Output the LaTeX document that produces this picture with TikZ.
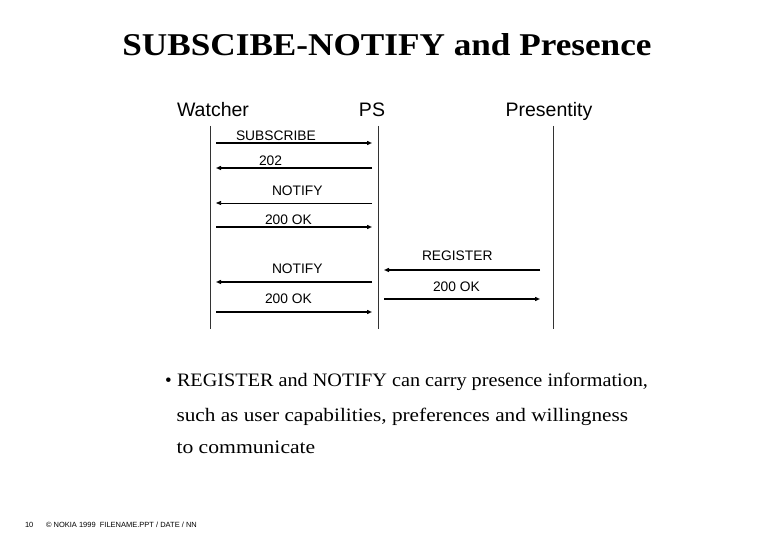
\documentclass[tikz,border=0pt]{standalone}
\usepackage{fontspec}
\setmainfont{Liberation Serif}
\newfontfamily\arialf{Liberation Sans}
\usetikzlibrary{arrows.meta}
\tikzset{
  txt/.style={inner sep=0pt, outer sep=0pt, anchor=base west},
  head/.style={inner sep=0pt, anchor=base, font=\arialf\fontsize{19.5}{20}\selectfont},
  lbl/.style={txt, font=\arialf\fontsize{13.8}{14}\selectfont},
  life/.style={line width=0.8pt, black!80},
  msg/.style={line width=1.3pt, -{Triangle[length=5pt,width=4pt]}},
  thinmsg/.style={line width=0.7pt, -{Triangle[length=5pt,width=4pt]}},
  body/.style={txt, font=\fontsize{19}{20}\selectfont},
  foottxt/.style={txt, font=\arialf\fontsize{7.5}{8}\selectfont},
}
\begin{document}
\begin{tikzpicture}[x=1pt,y=-1pt]
\useasboundingbox (0,0) rectangle (780,540);
\fill[white] (0,0) rectangle (780,540);
% title
\node[inner sep=0pt, anchor=base, font=\bfseries\fontsize{31.7}{32}\selectfont] (title) at (387,56) {\scalebox{1.11}[1]{SUBSCIBE-NOTIFY and Presence}};
% headers
\node[head] (watcher) at (213,117) {Watcher};
\node[head] (ps) at (372,117) {PS};
\node[head] (presentity) at (549,117) {Presentity};
% lifelines
\coordinate (wt) at (210,126); \coordinate (wb) at (210,329);
\coordinate (pt) at (378,126); \coordinate (pb) at (378,329);
\coordinate (rt) at (553,126); \coordinate (rb) at (553,329);
\draw[life] (wt) -- (wb);
\draw[life] (pt) -- (pb);
\draw[life] (rt) -- (rb);
% message endpoints
\foreach \n/\y in {a/143,b/168,c/203,d/227,f/282,h/312}{
  \coordinate (wl\n) at (216,\y);
  \coordinate (pl\n) at (372,\y);
}
\foreach \n/\y in {e/270,g/299}{
  \coordinate (pr\n) at (384,\y);
  \coordinate (rl\n) at (540,\y);
}
\draw[msg] (wla) -- (pla);
\draw[msg] (plb) -- (wlb);
\draw[thinmsg] (plc) -- (wlc);
\draw[msg] (wld) -- (pld);
\draw[msg] (rle) -- (pre);
\draw[msg] (plf) -- (wlf);
\draw[msg] (prg) -- (rlg);
\draw[msg] (wlh) -- (plh);
% labels
\node[lbl] (l1) at (236,141) {SUBSCRIBE};
\node[lbl] (l2) at (259,166) {202};
\node[lbl] (l3) at (272,196) {NOTIFY};
\node[lbl] (l4) at (265,225) {200 OK};
\node[lbl] (l5) at (422,261) {REGISTER};
\node[lbl] (l6) at (272,274) {NOTIFY};
\node[lbl] (l7) at (433,292) {200 OK};
\node[lbl] (l8) at (265,304) {200 OK};
% bullet text
\node[body] (bul) at (165,387) {•};
\node[body] (t1) at (177,387) {\scalebox{1.064}[1]{REGISTER and NOTIFY can carry presence information,}};
\node[body] (t2) at (176.5,421) {\scalebox{1.119}[1]{such as user capabilities, preferences and willingness}};
\node[body] (t3) at (176.5,453) {\scalebox{1.139}[1]{to communicate}};
% footer
\node[foottxt] (pg) at (25,527) {10};
\node[foottxt] (foot) at (46,527) {© NOKIA 1999\ \ FILENAME.PPT / DATE / NN};
\end{tikzpicture}
\end{document}
